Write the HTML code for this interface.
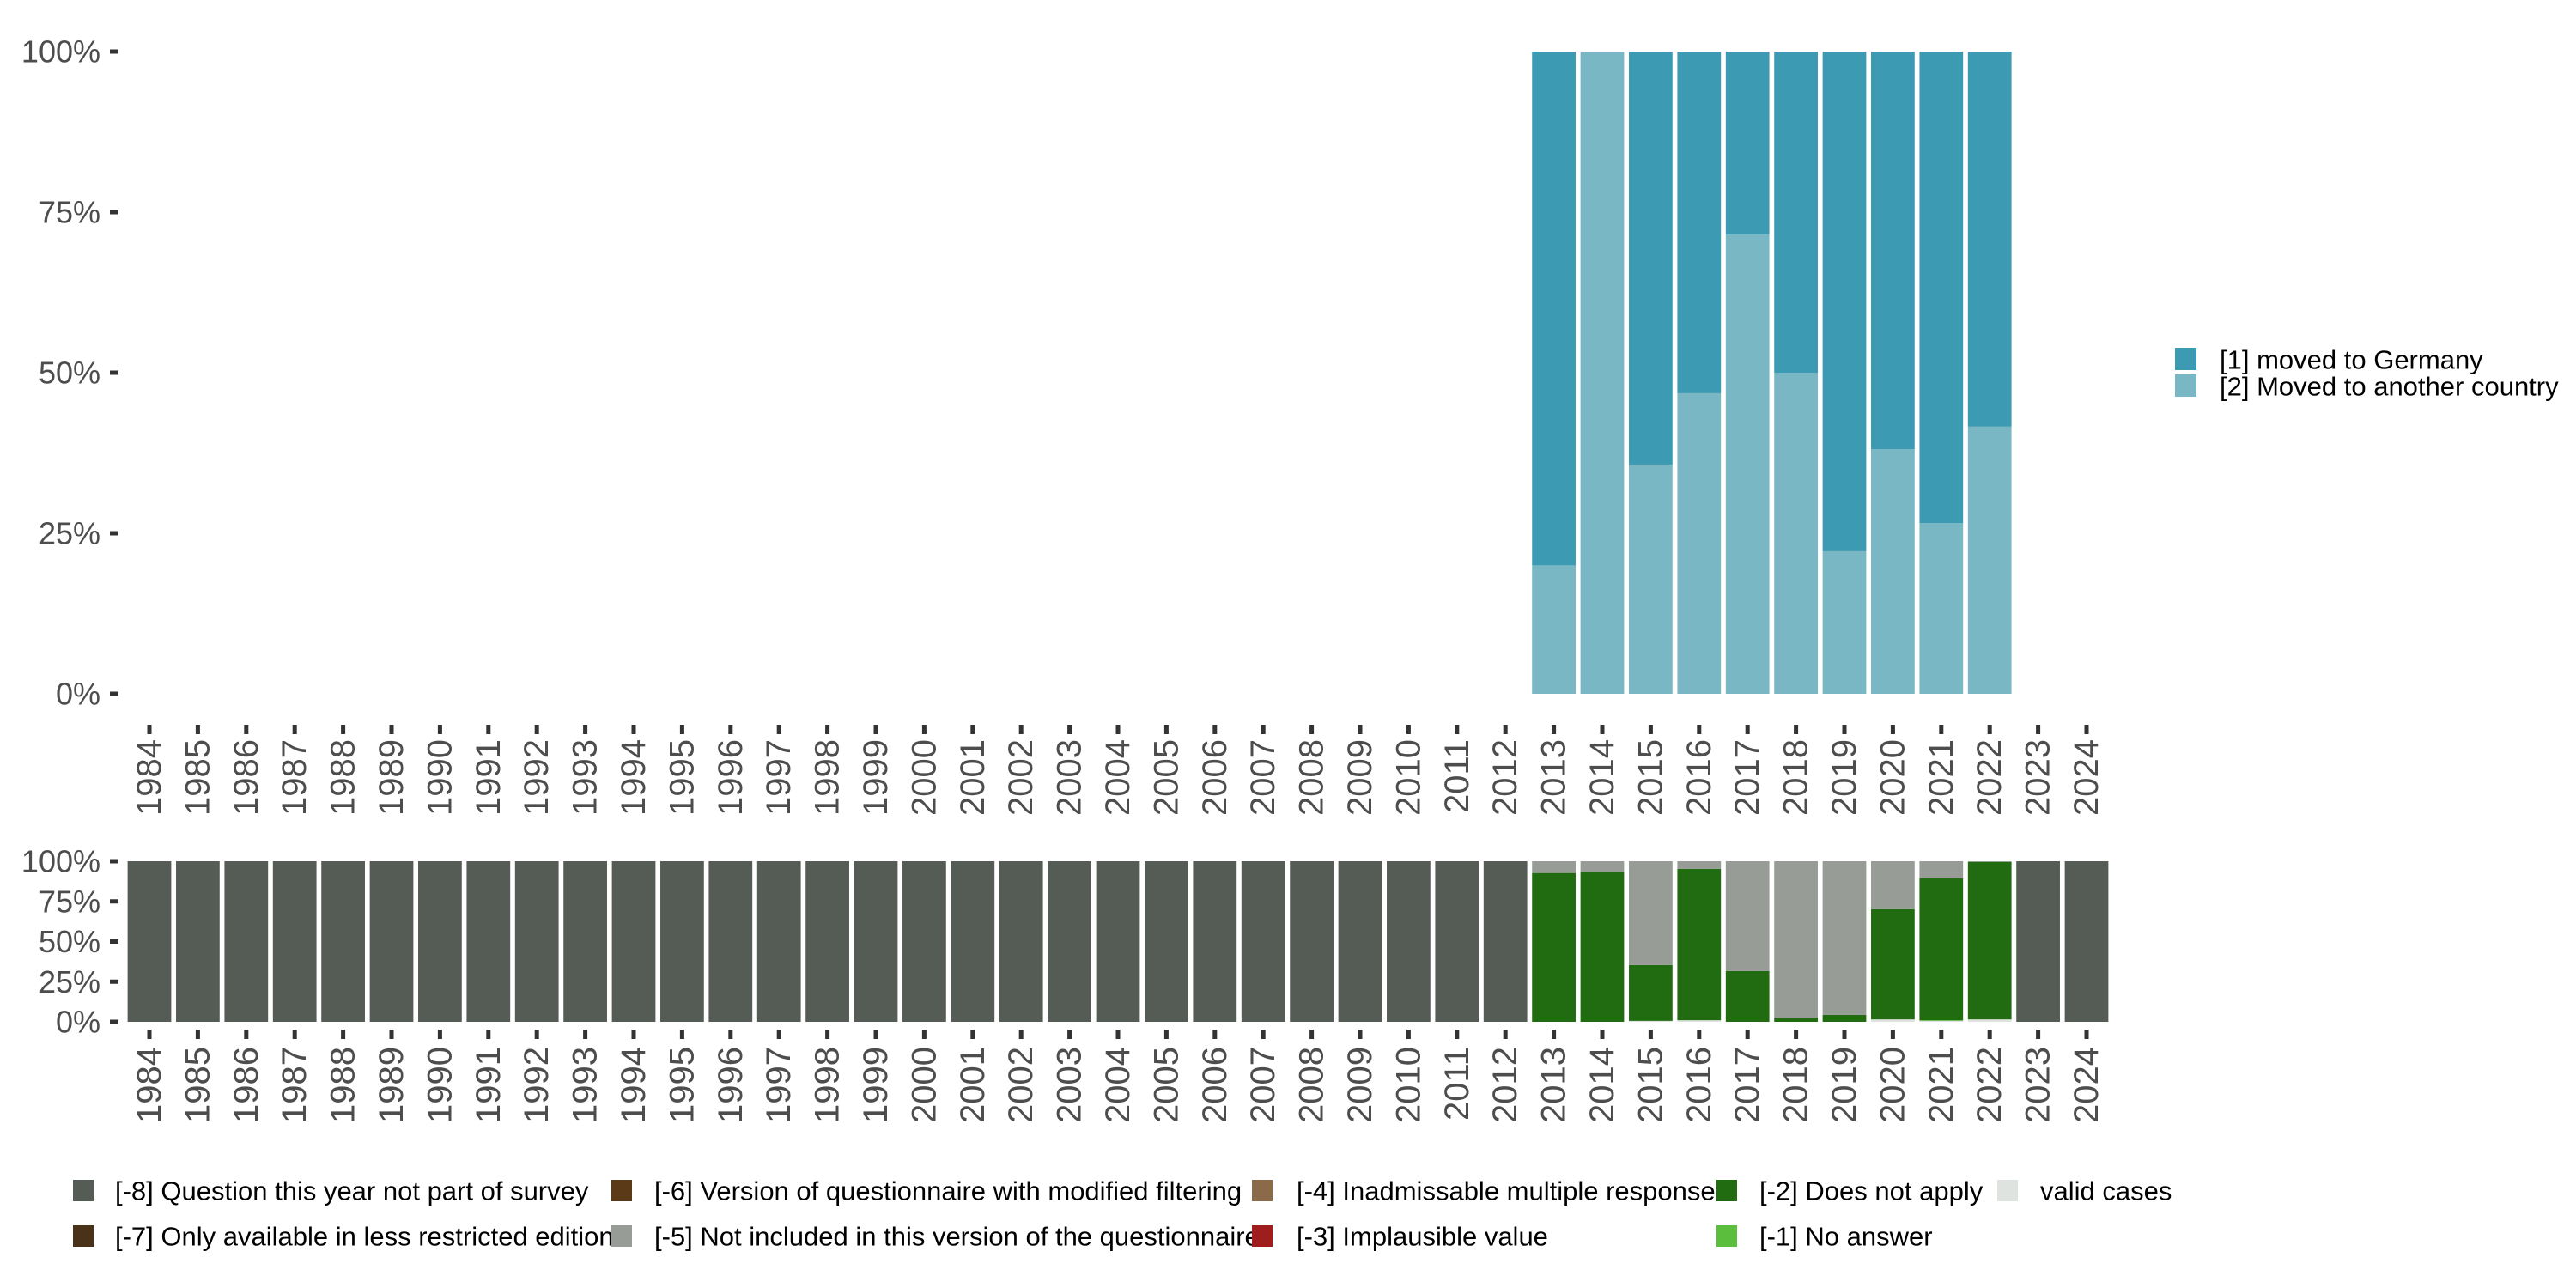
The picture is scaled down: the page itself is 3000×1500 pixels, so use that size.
<!DOCTYPE html>
<html><head><meta charset="utf-8"><style>
html,body{margin:0;padding:0;background:#fff;}
svg{display:block;font-family:"Liberation Sans",sans-serif;}
</style></head><body>
<svg id="chart" width="3000" height="1500" viewBox="0 0 3000 1500" xmlns="http://www.w3.org/2000/svg">
<g id="top"></g>
<g id="bot"></g>
<g id="topLegend"></g>
<g id="botLegend"></g>
</svg>
<script>
const years = [];
for (let y = 1984; y <= 2024; y++) years.push(y);
const yTicks = [0, 0.25, 0.5, 0.75, 1];
const yTickLabels = ["0%", "25%", "50%", "75%", "100%"];
// top panel: share of [2] Moved to another country (bottom segment); remainder [1]
const topYears = [2013, 2014, 2015, 2016, 2017, 2018, 2019, 2020, 2021, 2022];
const movedOther = [0.200, 1.0, 0.357, 0.468, 0.715, 0.500, 0.222, 0.381, 0.266, 0.416];
const topLabels = ["[1] moved to Germany", "[2] Moved to another country"];
const topColors = ["#3c9ab2", "#79b7c5"];
// bottom panel (years 2013-2022 differ; others are 100% [-8])
const validCases = [0, 0, 0.006, 0.010, 0, 0, 0, 0.015, 0.006, 0.015];
const noAnswer   = [0, 0, 0, 0, 0, 0, 0, 0, 0.004, 0];
const doesNotApply = [0.927, 0.932, 0.348, 0.943, 0.316, 0.026, 0.043, 0.686, 0.885, 0.981];
const notIncluded  = [0.073, 0.068, 0.646, 0.047, 0.684, 0.974, 0.957, 0.299, 0.105, 0.004];
const legendLabels = ["[-8] Question this year not part of survey","[-7] Only available in less restricted edition","[-6] Version of questionnaire with modified filtering","[-5] Not included in this version of the questionnaire","[-4] Inadmissable multiple response","[-3] Implausible value","[-2] Does not apply","[-1] No answer","valid cases"];
const legendColors = ["#555c55","#4a3219","#5a3a17","#979c96","#8b6a4a","#a01d1d","#216b10","#5bbf3d","#dfe3df"];

const NS = "http://www.w3.org/2000/svg";
function mk(parent, tag, attrs, text) {
  const e = document.createElementNS(NS, tag);
  for (const k in attrs) e.setAttribute(k, attrs[k]);
  if (text !== undefined) e.textContent = text;
  parent.appendChild(e);
  return e;
}
const x0 = 174, step = (2430 - 174) / 40, bw = step * 0.9;
function xPos(year) { return x0 + (year - 1984) * step; }

function axes(g, yTop, yBot, tickTop, labTop, prefix) {
  const ys = v => yBot - v * (yBot - yTop);
  yTicks.forEach((v, i) => {
    const t = mk(g, "text", {x: 117, y: ys(v), "text-anchor": "end", "dominant-baseline": "central", "font-size": 36, fill: "#4d4d4d"}, yTickLabels[i]);
    
    
    const r = mk(g, "rect", {x: 128, y: ys(v) - 2.5, width: 10, height: 5, fill: "#333"});
    
    
  });
  years.forEach(yr => {
    const x = xPos(yr);
    const r = mk(g, "rect", {x: x - 2.5, y: tickTop, width: 5, height: 11, fill: "#333"});
    
    
    const t = mk(g, "text", {transform: `translate(${x},${labTop}) rotate(-90)`, "text-anchor": "end", "dominant-baseline": "central", "font-size": 40, fill: "#4d4d4d"}, String(yr));
    
    
  });
  return ys;
}

// top panel
const gT = document.getElementById("top");
const ysT = axes(gT, 60, 808, 844, 861, "top");
topYears.forEach((yr, i) => {
  const x = xPos(yr) - bw / 2;
  const v = movedOther[i];
  const a = mk(gT, "rect", {x: x, y: ysT(v), width: bw, height: ysT(0) - ysT(v), fill: topColors[1]});
  
  
  const b = mk(gT, "rect", {x: x, y: ysT(1), width: bw, height: ysT(v) - ysT(1), fill: topColors[0]});
  
  
});

// bottom panel
const gB = document.getElementById("bot");
const ysB = axes(gB, 1003, 1190, 1199, 1219, "bottom");
years.forEach(yr => {
  const x = xPos(yr) - bw / 2;
  const i = topYears.indexOf(yr);
  let segs;
  if (i < 0) segs = [[1, legendColors[0], "not-part"]];
  else segs = [[validCases[i], legendColors[8], "valid"], [noAnswer[i], legendColors[7], "no-answer"], [doesNotApply[i], legendColors[6], "does-not-apply"], [notIncluded[i], legendColors[3], "not-included"]];
  let cum = 0;
  segs.forEach(s => {
    if (s[0] <= 0) return;
    const r = mk(gB, "rect", {x: x, y: ysB(cum + s[0]), width: bw, height: ysB(cum) - ysB(cum + s[0]), fill: s[1]});
    
    
    cum += s[0];
  });
});

// top legend
const gL = document.getElementById("topLegend");
topLabels.forEach((lab, i) => {
  const y = 405 + i * 31;
  const r = mk(gL, "rect", {x: 2533, y: y, width: 25, height: 26, fill: topColors[i]});
  
  
  const t = mk(gL, "text", {x: 2585, y: y + 14, "dominant-baseline": "central", "font-size": 31, fill: "#000"}, lab);
  
  
});

// bottom legend
const gBL = document.getElementById("botLegend");
const colSq = [85, 712, 1458, 1999, 2326];
const colTx = [134, 762, 1510, 2049, 2376];
legendLabels.forEach((lab, i) => {
  const col = Math.floor(i / 2), row = i % 2;
  const y = row === 0 ? 1374 : 1427;
  const r = mk(gBL, "rect", {x: colSq[col], y: y, width: 24, height: 25, fill: legendColors[i]});
  
  
  const t = mk(gBL, "text", {x: colTx[col], y: y + 13, "dominant-baseline": "central", "font-size": 31, fill: "#000"}, lab);
  
  
});
</script>
</body></html>
